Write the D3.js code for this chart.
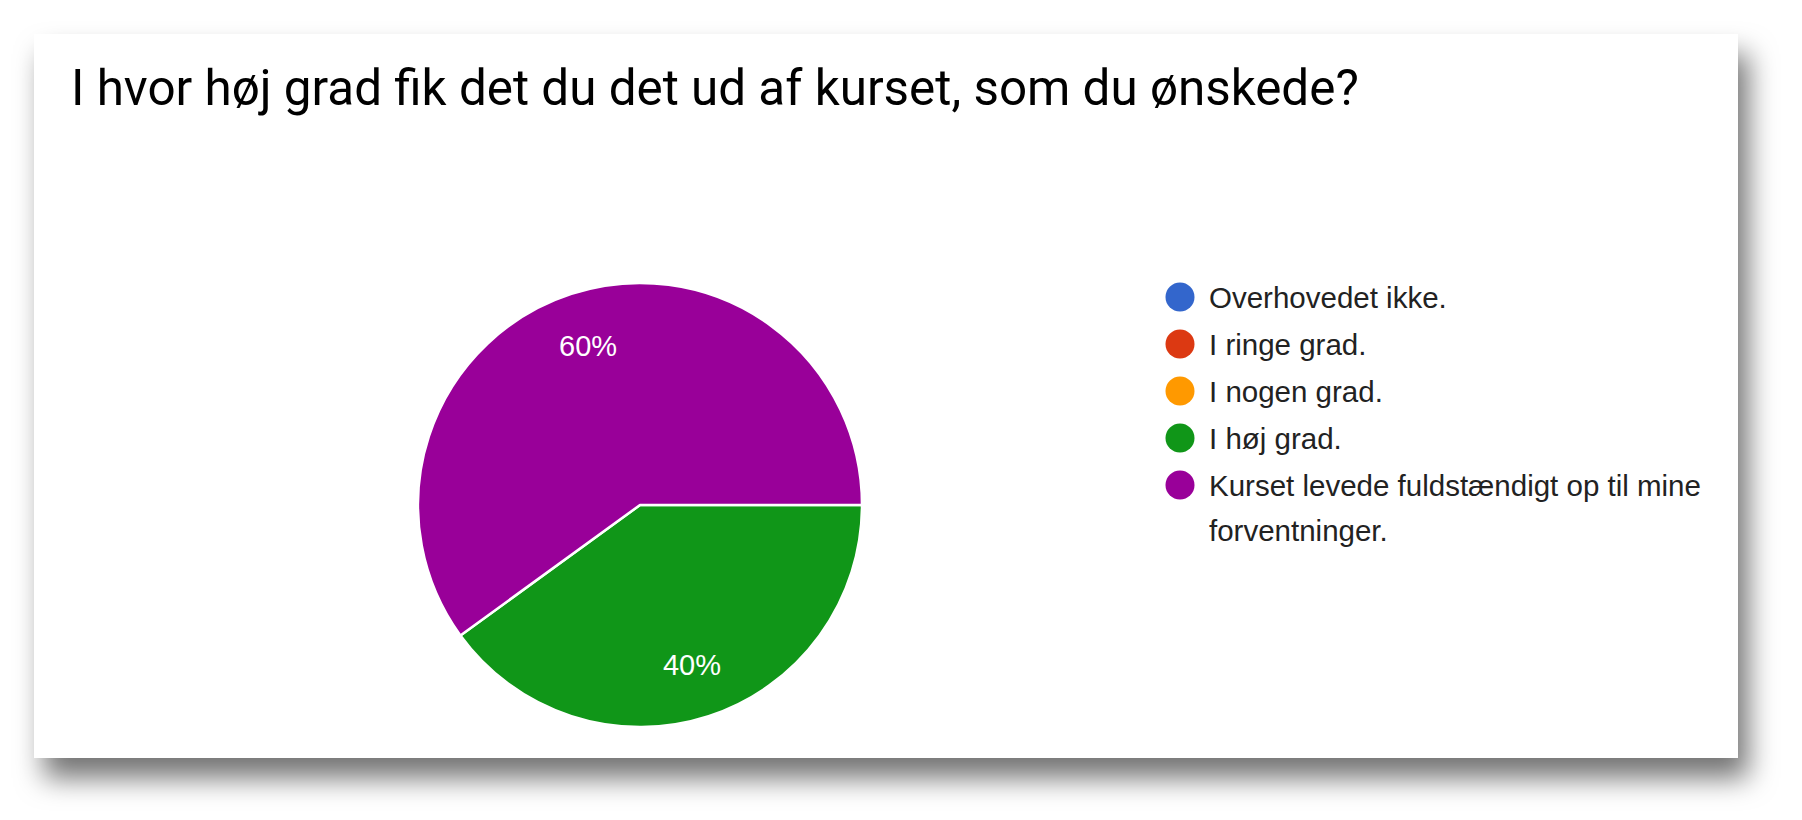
<!DOCTYPE html>
<html>
<head>
<meta charset="utf-8">
<script src="https://cdn.jsdelivr.net/npm/d3@7"></script>
<style>
  html, body { margin: 0; padding: 0; background: #fff; }
  svg { display: block; }
</style>
</head>
<body>
<svg id="chart"></svg>
<script>
// data
const title = "I hvor høj grad fik det du det ud af kurset, som du ønskede?";
const categories = [
  "Overhovedet ikke.",
  "I ringe grad.",
  "I nogen grad.",
  "I høj grad.",
  "Kurset levede fuldstændigt op til mine forventninger."
];
const values = [0, 0, 0, 40, 60]; // percent
const colors = ["#3366cc", "#dc3912", "#ff9900", "#109618", "#990099"];

const W = 1802, H = 820;
const card = { x: 34, y: 34, w: 1704, h: 724 };

const svg = d3.select("#chart").attr("width", W).attr("height", H);

// drop shadow behind the card
const defs = svg.append("defs");
const f = defs.append("filter").attr("id", "shadow")
  .attr("x", "-5%").attr("y", "-10%").attr("width", "115%").attr("height", "130%");
f.append("feDropShadow")
  .attr("dx", 10).attr("dy", 20)
  .attr("stdDeviation", 14)
  .attr("flood-color", "#000")
  .attr("flood-opacity", 0.55);

svg.append("rect")
  .attr("x", card.x).attr("y", card.y)
  .attr("width", card.w).attr("height", card.h)
  .attr("fill", "#fff")
  .attr("filter", "url(#shadow)");

// title
const titleText = svg.append("text")
  .attr("x", 71).attr("y", 105)
  .attr("font-family", "Roboto, 'Noto Sans', sans-serif")
  .attr("font-size", 48)
  .attr("fill", "#000")
  .text(title);
// fit the title to the width it has in the picture
const tw = titleText.node().getComputedTextLength();
titleText.attr("font-size", 48 * 1288 / tw);

// pie
const cx = 640, cy = 505, radius = 222;
const pie = d3.pie().sort(null).value(d => d.value)
  .startAngle(Math.PI / 2).endAngle(Math.PI / 2 + 2 * Math.PI);
const rows = categories.map((c, i) => ({ name: c, value: values[i], color: colors[i] }));
const arcs = pie(rows).filter(d => d.data.value > 0);
const arc = d3.arc().innerRadius(0).outerRadius(radius);
const labelArc = d3.arc().innerRadius(radius * 0.757).outerRadius(radius * 0.757);
const total = d3.sum(values);

const g = svg.append("g").attr("transform", `translate(${cx},${cy})`);
g.selectAll("path").data(arcs).join("path")
  .attr("d", arc)
  .attr("fill", d => d.data.color)
  .attr("stroke", "#fff")
  .attr("stroke-width", 2.5)
  .attr("stroke-linejoin", "round");

g.selectAll("text").data(arcs).join("text")
  .attr("transform", d => `translate(${labelArc.centroid(d)})`)
  .attr("text-anchor", "middle")
  .attr("dy", "0.36em")
  .attr("font-family", "Arial, 'Liberation Sans', sans-serif")
  .attr("font-size", 29)
  .attr("fill", "#fff")
  .text(d => Math.round(d.data.value / total * 100) + "%");

// legend
const legX = 1180, legY = 297, rowGap = 47, lineGap = 45, maxW = 515;
const legend = svg.append("g");
let y = legY;
rows.forEach(r => {
  legend.append("circle")
    .attr("cx", legX).attr("cy", y).attr("r", 14.5)
    .attr("fill", r.color);
  const t = legend.append("text")
    .attr("x", legX + 29).attr("y", y)
    .attr("dy", "0.36em")
    .attr("font-family", "Arial, 'Liberation Sans', sans-serif")
    .attr("font-size", 29.5)
    .attr("fill", "#222");
  // wrap long labels word by word
  const words = r.name.split(" ");
  let line = [], tspan = t.append("tspan").attr("x", legX + 29), lines = 1;
  words.forEach(w => {
    line.push(w);
    tspan.text(line.join(" "));
    if (tspan.node().getComputedTextLength() > maxW && line.length > 1) {
      line.pop();
      tspan.text(line.join(" "));
      line = [w];
      tspan = t.append("tspan").attr("x", legX + 29).attr("dy", lineGap).text(w);
      lines++;
    }
  });
  y += rowGap + (lines - 1) * lineGap;
});
</script>
</body>
</html>
